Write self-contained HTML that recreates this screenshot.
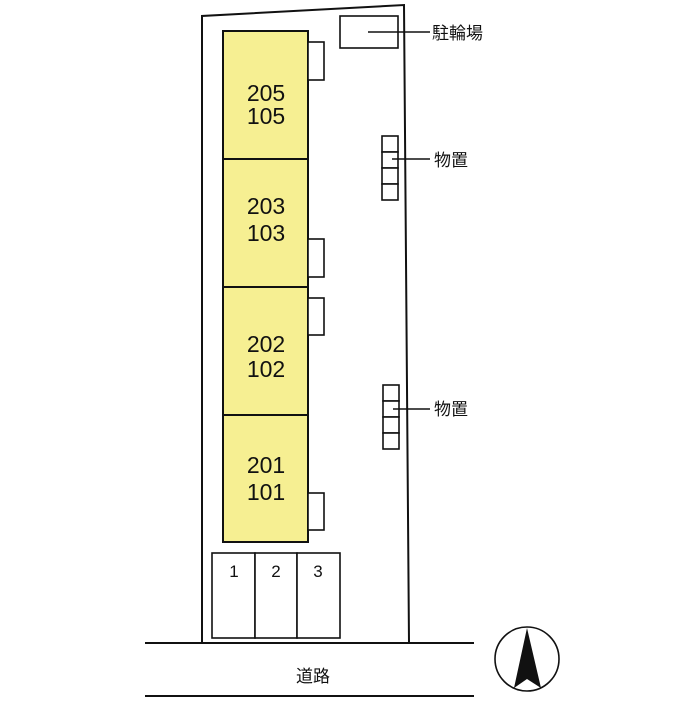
<!DOCTYPE html>
<html><head><meta charset="utf-8"><style>body{margin:0;background:#fff}</style></head><body>
<svg width="700" height="700" viewBox="0 0 700 700" xmlns="http://www.w3.org/2000/svg" font-family="'Liberation Sans','Noto Sans CJK JP',sans-serif">
<rect width="700" height="700" fill="#fff"/>
<g stroke="#111" stroke-width="2" fill="none">
<polyline points="202,643 202,16 404,5 409,643"/>
<line x1="145" y1="643" x2="474" y2="643"/>
<line x1="145" y1="696" x2="474" y2="696"/>
</g>
<g stroke="#111" stroke-width="2" fill="#f6ef92">
<rect x="223" y="31" width="85" height="128"/>
<rect x="223" y="159" width="85" height="128"/>
<rect x="223" y="287" width="85" height="128"/>
<rect x="223" y="415" width="85" height="127"/>
</g>
<g stroke="#111" stroke-width="1.6" fill="#fff">
<rect x="308" y="42" width="16" height="38"/>
<rect x="308" y="239" width="16" height="38"/>
<rect x="308" y="298" width="16" height="37"/>
<rect x="308" y="493" width="16" height="37"/>
<rect x="212" y="553" width="43" height="85"/>
<rect x="255" y="553" width="42" height="85"/>
<rect x="297" y="553" width="43" height="85"/>
<rect x="340" y="16" width="58" height="32"/>
<rect x="382" y="136" width="16" height="16"/><rect x="382" y="152" width="16" height="16"/><rect x="382" y="168" width="16" height="16"/><rect x="382" y="184" width="16" height="16"/>
<rect x="383" y="385" width="16" height="16"/><rect x="383" y="401" width="16" height="16"/><rect x="383" y="417" width="16" height="16"/><rect x="383" y="433" width="16" height="16"/>
</g>
<g stroke="#111" stroke-width="1.6">
<line x1="368" y1="32" x2="430" y2="32"/>
<line x1="392" y1="159" x2="430" y2="159"/>
<line x1="393" y1="409" x2="430" y2="409"/>
</g>
<g font-size="23" fill="#111" text-anchor="middle">
<text x="266" y="101">205</text><text x="266" y="124">105</text>
<text x="266" y="214">203</text><text x="266" y="241">103</text>
<text x="266" y="352">202</text><text x="266" y="377">102</text>
<text x="266" y="473">201</text><text x="266" y="500">101</text>
</g>
<g font-size="17" fill="#111" text-anchor="middle">
<text x="234" y="577">1</text><text x="276" y="577">2</text><text x="318" y="577">3</text>
</g>
<g font-size="17" fill="#111">
<text x="432" y="39">駐輪場</text>
<text x="434" y="166">物置</text>
<text x="434" y="415">物置</text>
<text x="296" y="682">道路</text>
</g>
<circle cx="527" cy="659" r="32" fill="none" stroke="#111" stroke-width="1.6"/>
<polygon points="527,628 514,688 527,679 541,688" fill="#111"/>
</svg>
</body></html>
